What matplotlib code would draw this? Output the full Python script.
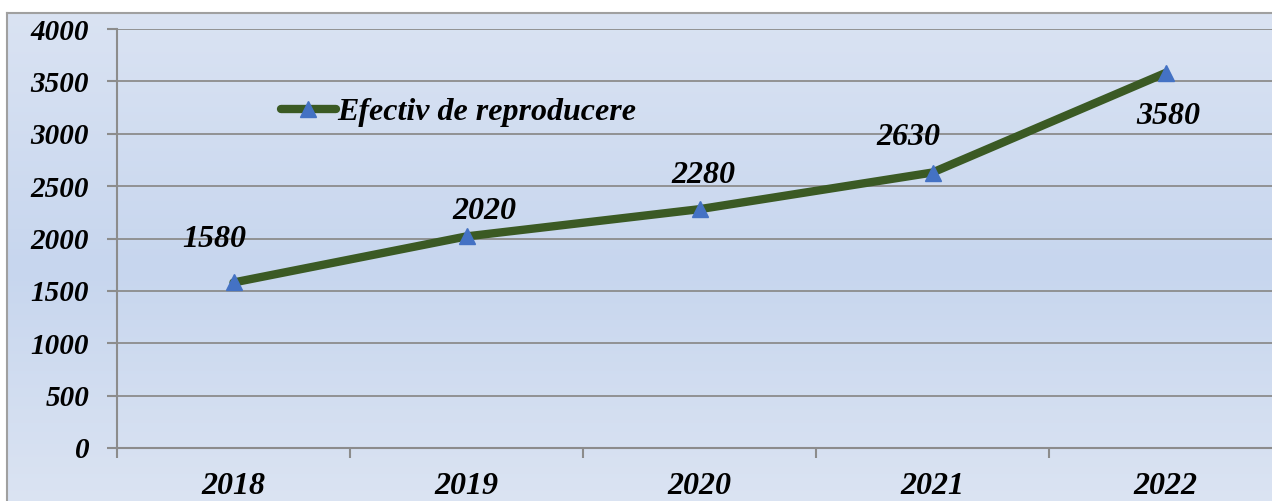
import numpy as np
import matplotlib.pyplot as plt
from matplotlib.colors import LinearSegmentedColormap

# --- Data ---
years = ['2018', '2019', '2020', '2021', '2022']
efectiv = [1580, 2020, 2280, 2630, 3580]
series_name = 'Efectiv de reproducere'
y_ticks = [0, 500, 1000, 1500, 2000, 2500, 3000, 3500, 4000]

plt.rcParams['font.family'] = ['Liberation Serif', 'DejaVu Serif']
plt.rcParams['font.weight'] = 'bold'
plt.rcParams['font.style'] = 'italic'

W, H = 1272, 501
fig = plt.figure(figsize=(W / 100, H / 100), dpi=100)
fig.patch.set_facecolor('white')

# background gradient of the chart area (bottom and right edges cropped)
bg = fig.add_axes([7 / W, -0.05, 1, (H - 13) / H + 0.05])
grad = LinearSegmentedColormap.from_list('bg', ['#dde5f3', '#c7d6ee', '#dae3f3'])
bg.imshow(np.linspace(0, 1, 256).reshape(-1, 1), aspect='auto', cmap=grad,
          extent=[0, 1, 0, 1], origin='lower')
bg.set_xlim(0, 1)
bg.set_ylim(0, 1)
bg.set_xticks([])
bg.set_yticks([])
for s in bg.spines.values():
    s.set_color('#a0a0a0')
    s.set_linewidth(1.5)

# --- Plot area ---
ax = fig.add_axes([117 / W, (H - 448) / H, 1165 / W, 419 / H])
ax.patch.set_alpha(0)
x = np.arange(len(years))
ax.plot(x, efectiv, color='#3b5a24', lw=6, marker='^', markersize=11,
        markerfacecolor='#4472c4', markeredgecolor='#4472c4', label=series_name,
        solid_capstyle='round', zorder=3)

offsets = [(-14, 31), (13, 18), (3, 24), (-17, 25), (2, -31)]
for xi, v, off in zip(x, efectiv, offsets):
    ax.annotate(str(v), (xi, v), xytext=off, textcoords='offset points',
                ha='center', va='center', fontsize=23, fontweight='bold',
                fontstyle='italic')

ax.set_xlim(-0.5, 4.5)
ax.set_ylim(0, 4000)
ax.set_yticks(y_ticks)
ax.set_xticks(x)
ax.set_xticklabels(years)
ax.set_xticks(np.arange(-0.5, 5, 1), minor=True)
ax.tick_params(axis='x', which='major', length=0, pad=17, labelsize=23)
ax.tick_params(axis='x', which='minor', length=7, width=1.5, color='#8c8c8c')
ax.tick_params(axis='y', length=7, width=1.5, color='#8c8c8c', pad=13, labelsize=21)
ax.grid(axis='y', color='#8c8c8c', lw=1.3)
ax.set_axisbelow(True)
for side in ['top', 'right']:
    ax.spines[side].set_visible(False)
for side in ['left', 'bottom']:
    ax.spines[side].set_color('#8c8c8c')
    ax.spines[side].set_linewidth(1.5)

leg = ax.legend(loc='center left', bbox_to_anchor=(0.141, 0.80), frameon=False,
                fontsize=23, handlelength=1.7, handletextpad=0.05, borderpad=0,
                borderaxespad=0)

fig.savefig('out.png', dpi=100)
